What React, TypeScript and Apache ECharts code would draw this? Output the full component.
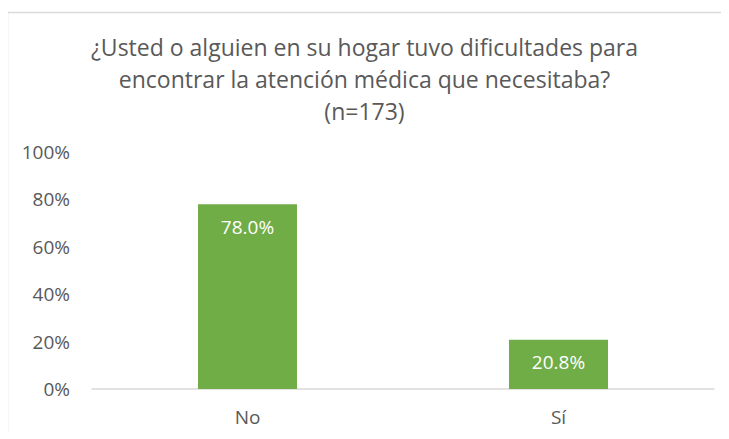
import React, { useEffect, useRef } from "react";
import * as echarts from "echarts";

const categories = ["No", "Sí"];
const values = [78.0, 20.8];
const yTicks = [0, 20, 40, 60, 80, 100];
const titleLines = [
  "¿Usted o alguien en su hogar tuvo dificultades para",
  "encontrar la atención médica que necesitaba?",
  "(n=173)",
];

const FONT = "'Open Sans', sans-serif";
const TEXT = "#595959";

export default function App() {
  const ref = useRef<HTMLDivElement>(null);
  useEffect(() => {
    if (!ref.current) return;
    const chart = echarts.init(ref.current, null, { renderer: "svg" });
    chart.setOption({
      animation: false,
      backgroundColor: "#ffffff",
      textStyle: { fontFamily: FONT },
      title: {
        text: titleLines.join("\n"),
        left: "center",
        top: 26,
        textStyle: {
          fontFamily: FONT,
          fontSize: 23,
          fontWeight: "normal",
          color: TEXT,
          lineHeight: 32,
        },
      },
      graphic: [
        {
          type: "rect",
          shape: { x: 7.5, y: 12.5, width: 800, height: 600 },
          style: { fill: "none", stroke: "#d9d9d9", lineWidth: 1.5 },
          silent: true,
          z: -1,
        },
      ],
      grid: { left: 92, right: 15, top: 152, bottom: 50 },
      xAxis: {
        type: "category",
        data: categories,
        axisLine: { show: true, lineStyle: { color: "#d9d9d9", width: 1.5 } },
        axisTick: { show: false },
        axisLabel: { color: TEXT, fontSize: 19, fontFamily: FONT, margin: 18 },
      },
      yAxis: {
        type: "value",
        min: 0,
        max: 100,
        interval: 20,
        splitLine: { show: false },
        axisLine: { show: false },
        axisTick: { show: false },
        axisLabel: {
          color: TEXT,
          fontSize: 19,
          fontFamily: FONT,
          margin: 22,
          formatter: (v: number) => (yTicks.includes(v) ? v + "%" : ""),
        },
      },
      series: [
        {
          type: "bar",
          data: values,
          barWidth: 99,
          itemStyle: { color: "#70ad47" },
          label: {
            show: true,
            position: "insideTop",
            distance: 13,
            color: "#ffffff",
            fontSize: 19,
            fontFamily: FONT,
            formatter: (p: any) => p.value.toFixed(1) + "%",
          },
        },
      ],
    });
    return () => chart.dispose();
  }, []);
  return <div ref={ref} style={{ width: 729, height: 439, margin: -8 }} />;
}
